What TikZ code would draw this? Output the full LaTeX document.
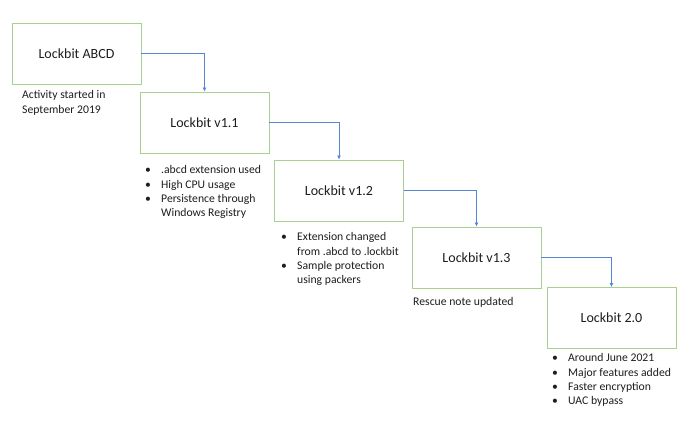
\documentclass[tikz,border=0pt]{standalone}
\usepackage{fontspec}
\setmainfont{Carlito}
\usetikzlibrary{arrows.meta}
\definecolor{boxgreen}{HTML}{A9D18E}
\definecolor{connblue}{HTML}{5585D4}
\definecolor{txt}{HTML}{1E1E1E}
\newcommand{\bul}[1]{\makebox[16pt][l]{\textbullet}#1}
\newcommand{\cont}[1]{\hspace*{16pt}#1}
\tikzset{
  box/.style={draw=boxgreen, line width=0.9pt, fill=white, minimum width=129pt, minimum height=61pt, inner sep=0pt, font=\fontsize{14}{16}\selectfont, text=txt},
  conn/.style={draw=connblue, line width=0.8pt, -{Latex[length=4pt,width=4pt]}},
  note/.style={anchor=north west, inner sep=0pt, align=left, font=\fontsize{11.7}{14.3}\selectfont, text=txt}
}
\begin{document}
\begin{tikzpicture}[x=1pt,y=-1pt]
\useasboundingbox[fill=white] (0,0) rectangle (699,436);
\node[box] (b1) at (76.5,53.5) {Lockbit ABCD};
\node[box] (b2) at (204.5,122.5) {Lockbit v1.1};
\node[box] (b3) at (339,190.5) {Lockbit v1.2};
\node[box] (b4) at (476.5,257.5) {Lockbit v1.3};
\node[box] (b5) at (611.5,318) {Lockbit 2.0};
\draw[conn] (b1.east) -| (b2.north);
\draw[conn] (b2.east) -| (b3.north);
\draw[conn] (b3.east) -| (b4.north);
\draw[conn] (b4.east) -| (b5.north);
\node[note] (n1) at (22,90.5) {Activity started in\\September 2019};
\node[note] (n2) at (145,165.5) {\bul{.abcd extension used}\\\bul{High CPU usage}\\\bul{Persistence through}\\\cont{Windows Registry}};
\node[note] (n3) at (281,232.5) {\bul{Extension changed}\\\cont{from .abcd to .lockbit}\\\bul{Sample protection}\\\cont{using packers}};
\node[note] (n4) at (413,297.5) {Rescue note updated};
\node[note] (n5) at (552,353.5) {\bul{Around June 2021}\\\bul{Major features added}\\\bul{Faster encryption}\\\bul{UAC bypass}};
\end{tikzpicture}
\end{document}
